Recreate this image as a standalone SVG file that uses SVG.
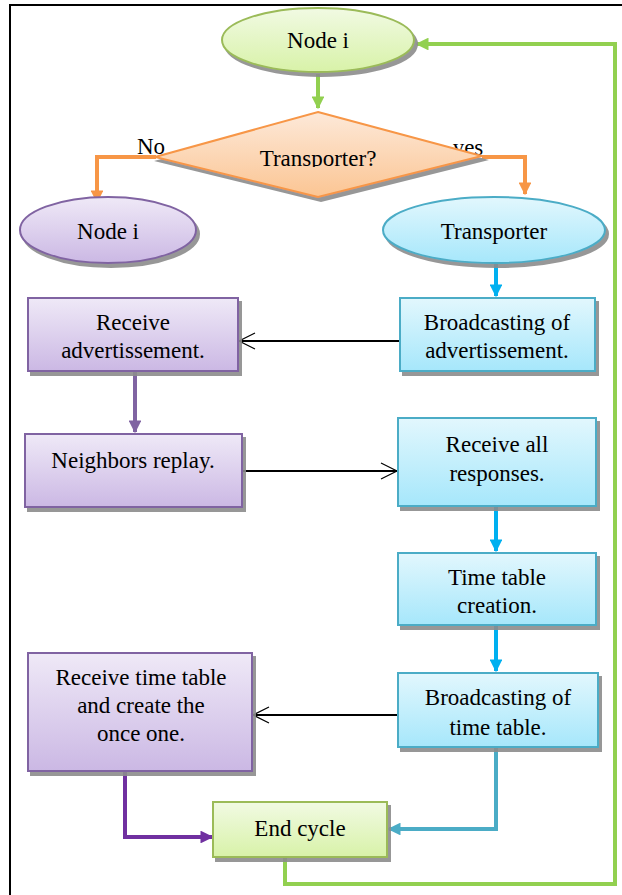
<svg xmlns="http://www.w3.org/2000/svg" width="622" height="895" viewBox="0 0 622 895" font-family="'Liberation Serif', 'Times New Roman', Times, 'DejaVu Serif', serif">
<style>
text{font-family:'Liberation Serif','Times New Roman',Times,'DejaVu Serif',serif;font-size:23px;fill:#000;text-anchor:middle}
.g{fill:url(#gG);stroke:#9bbb59;stroke-width:2}
.p{fill:url(#gP);stroke:#8064a2;stroke-width:2}
.b{fill:url(#gB);stroke:#4bacc6;stroke-width:2}
.o{fill:url(#gO);stroke:#f79646;stroke-width:2}
.sh{filter:url(#shadow)}
.c{fill:none;stroke-width:4}
</style>
<defs>
<linearGradient id="gG" x1="0" y1="0" x2="0" y2="1"><stop offset="0" stop-color="#f1fae3"/><stop offset="1" stop-color="#d8f2a8"/></linearGradient>
<linearGradient id="gP" x1="0" y1="0" x2="0" y2="1"><stop offset="0" stop-color="#efe9f7"/><stop offset="1" stop-color="#cbb8e4"/></linearGradient>
<linearGradient id="gB" x1="0" y1="0" x2="0" y2="1"><stop offset="0" stop-color="#e2f7fd"/><stop offset="1" stop-color="#a6e7fb"/></linearGradient>
<linearGradient id="gO" x1="0" y1="0" x2="0" y2="1"><stop offset="0" stop-color="#fde9d9"/><stop offset="1" stop-color="#fbc593"/></linearGradient>
<filter id="shadow" x="-10%" y="-10%" width="130%" height="140%"><feDropShadow dx="3" dy="4" stdDeviation="0.6" flood-color="#8c8c8c" flood-opacity="0.9"/></filter>
<clipPath id="clipT"><rect x="150" y="130" width="340" height="37"/></clipPath>
<marker id="aG" viewBox="0 0 10 10" refX="9" refY="5" markerWidth="3.2" markerHeight="3.2" orient="auto" markerUnits="strokeWidth"><path d="M0,0 L10,5 L0,10 z" fill="#92d050"/></marker>
<marker id="aO" viewBox="0 0 10 10" refX="9" refY="5" markerWidth="3.2" markerHeight="3.2" orient="auto" markerUnits="strokeWidth"><path d="M0,0 L10,5 L0,10 z" fill="#f79646"/></marker>
<marker id="aB" viewBox="0 0 10 10" refX="9" refY="5" markerWidth="3.2" markerHeight="3.2" orient="auto" markerUnits="strokeWidth"><path d="M0,0 L10,5 L0,10 z" fill="#00b0f0"/></marker>
<marker id="aT" viewBox="0 0 10 10" refX="9" refY="5" markerWidth="3.2" markerHeight="3.2" orient="auto" markerUnits="strokeWidth"><path d="M0,0 L10,5 L0,10 z" fill="#4bacc6"/></marker>
<marker id="aP" viewBox="0 0 10 10" refX="9" refY="5" markerWidth="3.2" markerHeight="3.2" orient="auto" markerUnits="strokeWidth"><path d="M0,0 L10,5 L0,10 z" fill="#8064a2"/></marker>
<marker id="aV" viewBox="0 0 10 10" refX="9" refY="5" markerWidth="3.2" markerHeight="3.2" orient="auto" markerUnits="strokeWidth"><path d="M0,0 L10,5 L0,10 z" fill="#7030a0"/></marker>
<marker id="aK" viewBox="0 0 20 20" refX="18" refY="10" markerWidth="10" markerHeight="10" orient="auto" markerUnits="strokeWidth"><path d="M2,2 L18,10 L2,18" fill="none" stroke="#000" stroke-width="1.2"/></marker>
</defs>
<rect x="10" y="5" width="620" height="900" fill="#fff" stroke="#000" stroke-width="2"/>
<text x="151" y="154">No</text>
<text x="468" y="155">yes</text>
<g id="connectors">
<path class="c" d="M318,74 V108" stroke="#92d050" marker-end="url(#aG)"/>
<path class="c" d="M156,157 H97 V202" stroke="#f79646" marker-end="url(#aO)"/>
<path class="c" d="M482,157 H525 V194" stroke="#f79646" marker-end="url(#aO)"/>
<path class="c" d="M496,263 V296" stroke="#00b0f0" marker-end="url(#aB)"/>
<path d="M400,341 H239" stroke="#000" stroke-width="2" fill="none" marker-end="url(#aK)"/>
<path class="c" d="M135,372 V432" stroke="#8064a2" marker-end="url(#aP)"/>
<path d="M242,471 H397" stroke="#000" stroke-width="2" fill="none" marker-end="url(#aK)"/>
<path class="c" d="M496,507 V551" stroke="#00b0f0" marker-end="url(#aB)"/>
<path class="c" d="M496,626 V671" stroke="#00b0f0" marker-end="url(#aB)"/>
<path d="M398,715 H253" stroke="#000" stroke-width="2" fill="none" marker-end="url(#aK)"/>
<path class="c" d="M496,748 V829 H389" stroke="#4bacc6" marker-end="url(#aT)"/>
<path class="c" d="M125,772 V837 H212" stroke="#7030a0" marker-end="url(#aV)"/>
<path class="c" d="M285,858 V884 H615 V44 H417" stroke="#92d050" marker-end="url(#aG)"/>
</g>
<g id="n_top"><ellipse class="g sh" cx="318" cy="40" rx="96" ry="32"/><text x="318" y="48">Node i</text></g>
<g id="n_dec"><polygon class="o sh" points="318,112 482,156 318,197 155,157"/><text x="318" y="166" clip-path="url(#clipT)">Transporter?</text></g>
<g id="n_nodei"><ellipse class="p sh" cx="108" cy="230" rx="88" ry="33"/><text x="108" y="239">Node i</text></g>
<g id="n_trans"><ellipse class="b sh" cx="494" cy="230" rx="111" ry="33"/><text x="494" y="239">Transporter</text></g>
<g id="n_bcadv"><rect class="b sh" x="400" y="298" width="195" height="73"/><text x="497" y="330">Broadcasting of</text><text x="497" y="358">advertissement.</text></g>
<g id="n_rcvadv"><rect class="p sh" x="28" y="298" width="210" height="73"/><text x="133" y="330">Receive</text><text x="133" y="358">advertissement.</text></g>
<g id="n_neigh"><rect class="p sh" x="25" y="434" width="217" height="73"/><text x="133" y="468">Neighbors replay.</text></g>
<g id="n_rcvall"><rect class="b sh" x="398" y="418" width="198" height="88"/><text x="497" y="452">Receive all</text><text x="497" y="481">responses.</text></g>
<g id="n_ttc"><rect class="b sh" x="398" y="553" width="198" height="72"/><text x="497" y="585">Time table</text><text x="497" y="613">creation.</text></g>
<g id="n_bctt"><rect class="b sh" x="398" y="673" width="200" height="74"/><text x="498" y="705">Broadcasting of</text><text x="498" y="735">time table.</text></g>
<g id="n_rcvtt"><rect class="p sh" x="28" y="653" width="224" height="118"/><text x="141" y="685">Receive time table</text><text x="141" y="713">and create the</text><text x="141" y="741">once one.</text></g>
<g id="n_end"><rect class="g sh" x="213" y="802" width="174" height="55"/><text x="300" y="836">End cycle</text></g>
</svg>
